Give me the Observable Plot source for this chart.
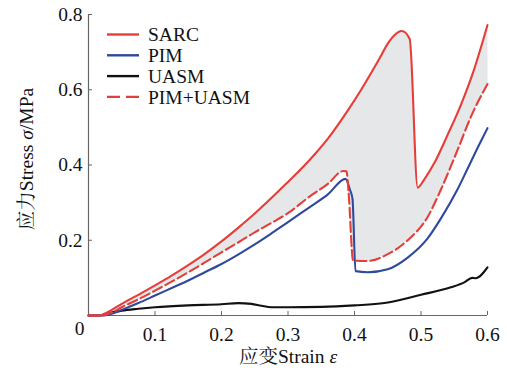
<!DOCTYPE html>
<html>
<head>
<meta charset="utf-8">
<script src="https://cdn.jsdelivr.net/npm/d3@7"></script>
<script src="https://cdn.jsdelivr.net/npm/@observablehq/plot@0.6"></script>
<style>
  body { margin: 0; background: #fff; }
  #chart svg { display: block; }
  #chart svg text, #chart svg tspan { font-family: "Liberation Serif", "Noto Serif CJK SC", serif; }
</style>
</head>
<body>
<div id="chart"></div>
<script>
// Stress–strain curves (strain ε, stress σ in MPa)
const sarcStrain = [0, 0.015, 0.03, 0.05, 0.075, 0.1, 0.125, 0.15, 0.175, 0.2, 0.225, 0.25, 0.275, 0.3, 0.32, 0.34, 0.36, 0.39, 0.41, 0.435, 0.452, 0.46, 0.471, 0.483, 0.495, 0.505, 0.52, 0.54, 0.56, 0.58, 0.6];
const sarcStress = [0, 0, 0.01, 0.031, 0.055, 0.08, 0.106, 0.134, 0.164, 0.197, 0.233, 0.271, 0.312, 0.355, 0.39, 0.428, 0.47, 0.545, 0.6, 0.675, 0.728, 0.745, 0.756, 0.735, 0.34, 0.362, 0.405, 0.48, 0.56, 0.655, 0.772];

const pimStrain = [0, 0.02, 0.035, 0.05, 0.075, 0.1, 0.125, 0.15, 0.175, 0.2, 0.225, 0.25, 0.275, 0.3, 0.33, 0.36, 0.3865, 0.393, 0.397, 0.4015, 0.42, 0.45, 0.48, 0.51, 0.53, 0.554, 0.57, 0.585, 0.6];
const pimStress = [0, 0, 0.005, 0.015, 0.033, 0.053, 0.073, 0.093, 0.115, 0.137, 0.162, 0.189, 0.218, 0.248, 0.285, 0.322, 0.363, 0.335, 0.31, 0.118, 0.115, 0.123, 0.154, 0.205, 0.258, 0.332, 0.39, 0.445, 0.498];

const uasmStrain = [0, 0.015, 0.03, 0.05, 0.075, 0.1, 0.15, 0.2, 0.225, 0.245, 0.26, 0.275, 0.3, 0.35, 0.4, 0.445, 0.5, 0.545, 0.565, 0.577, 0.582, 0.6];
const uasmStress = [0, 0, 0.006, 0.013, 0.018, 0.022, 0.027, 0.03, 0.033, 0.031, 0.026, 0.022, 0.022, 0.023, 0.027, 0.033, 0.055, 0.075, 0.088, 0.1, 0.099, 0.128];

const comboStrain = [0, 0.02, 0.035, 0.05, 0.075, 0.1, 0.125, 0.15, 0.175, 0.2, 0.225, 0.25, 0.275, 0.3, 0.33, 0.36, 0.383, 0.388, 0.391, 0.398, 0.42, 0.45, 0.48, 0.51, 0.53, 0.555, 0.575, 0.6];
const comboStress = [0, 0, 0.008, 0.022, 0.043, 0.066, 0.09, 0.115, 0.141, 0.168, 0.194, 0.221, 0.246, 0.272, 0.313, 0.35, 0.384, 0.383, 0.33, 0.146, 0.145, 0.163, 0.2, 0.262, 0.335, 0.44, 0.528, 0.615];

const seriesNames = ["SARC", "PIM", "UASM", "PIM+UASM"];
const xTicks = [0.1, 0.2, 0.3, 0.4, 0.5, 0.6];
const yTicks = [0.2, 0.4, 0.6, 0.8];

const RED = "#e53e39", BLUE = "#2f4a9c", BLACK = "#111", BAND = "#e6e7e9", AXIS = "#666";
const FONT = "Liberation Serif, Noto Serif CJK SC, serif";

const toPoints = (xs, ys) => xs.map((x, i) => ({x, y: ys[i]}));
const sarc = toPoints(sarcStrain, sarcStress);
const pim = toPoints(pimStrain, pimStress);
const uasm = toPoints(uasmStrain, uasmStress);
const combo = toPoints(comboStrain, comboStress);
// closed outline of the band between SARC (upper) and PIM+UASM (lower)
const band = sarc.concat(combo.slice().reverse());

const lineOpts = {x: "x", y: "y", strokeWidth: 2.1, curve: "monotone-x"};

const chart = Plot.plot({
  width: 507,
  height: 377,
  marginLeft: 88,
  marginRight: 20,
  marginTop: 14,
  marginBottom: 62,
  style: {fontFamily: FONT, fontSize: "19.5px", color: "#111", background: "#fff"},
  x: {domain: [0, 0.6]},
  y: {domain: [0, 0.8]},
  marks: [
    Plot.line(band, {x: "x", y: "y", fill: BAND, stroke: null, curve: "linear"}),
    Plot.axisX({ticks: xTicks, tickSize: -4, tickPadding: 16, stroke: AXIS, tickFormat: d3.format(".1f"),
      label: "应变Strain ε", labelAnchor: "center", labelArrow: "none", labelOffset: 47}),
    Plot.axisY({ticks: yTicks, tickSize: -4, tickPadding: 10, stroke: AXIS, tickFormat: d3.format(".1f"),
      label: "应力Stress σ/MPa", labelAnchor: "center", labelArrow: "none", labelOffset: 69}),
    Plot.ruleX([0], {stroke: AXIS, strokeWidth: 1.2}),
    Plot.ruleY([0], {stroke: AXIS, strokeWidth: 1.2}),
    Plot.text([0], {x: 0, y: 0, text: () => "0", dx: -9, dy: 13, fill: "#111"}),
    Plot.line(uasm, {...lineOpts, stroke: BLACK}),
    Plot.line(pim, {...lineOpts, stroke: BLUE}),
    Plot.line(combo, {...lineOpts, stroke: RED, strokeDasharray: "10,4"}),
    Plot.line(sarc, {...lineOpts, stroke: RED})
  ]
});

// italic Greek symbols in the axis labels
d3.select(chart).selectAll("text").each(function() {
  const t = this.textContent;
  if (t === "应变Strain ε" || t === "应力Stress σ/MPa") {
    const sym = t.includes("ε") ? "ε" : "σ";
    const [pre, post] = t.split(sym);
    const sel = d3.select(this);
    sel.text(null);
    sel.append("tspan").text(pre);
    sel.append("tspan").attr("font-style", "italic").text(sym);
    if (post) sel.append("tspan").text(post);
    // the stress label sits slightly above the middle of the axis
    if (sym === "σ") sel.attr("dx", 6);
  }
});

// legend in the upper-left corner of the plotting area
const legend = d3.select(chart).append("g")
  .attr("font-size", 19.5).attr("text-anchor", "start");
const swatch = [
  {stroke: RED, dash: null},
  {stroke: BLUE, dash: null},
  {stroke: BLACK, dash: null},
  {stroke: RED, dash: "13,6"}
];
seriesNames.forEach((name, i) => {
  const yy = 34.5 + i * 20.8;
  legend.append("line")
    .attr("x1", 107).attr("x2", 139).attr("y1", yy).attr("y2", yy)
    .attr("stroke", swatch[i].stroke).attr("stroke-width", 2.4)
    .attr("stroke-dasharray", swatch[i].dash);
  legend.append("text").attr("x", 148).attr("y", yy).attr("dy", "0.35em")
    .attr("fill", "#111").text(name);
});

document.getElementById("chart").append(chart);
</script>
</body>
</html>
